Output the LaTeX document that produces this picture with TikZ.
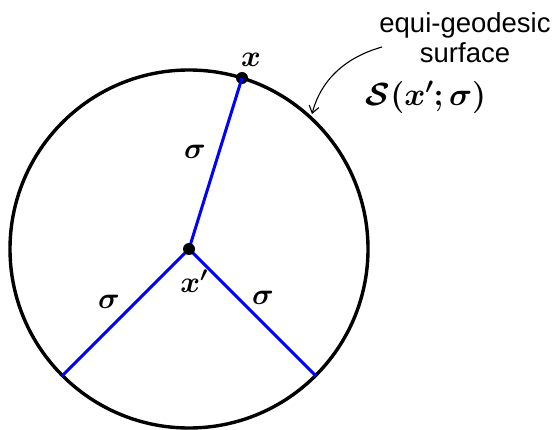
\RequirePackage{fix-cm}
\documentclass[tikz,border=0pt]{standalone}
\usepackage{fontspec}
\setmainfont{Liberation Sans}
\usepackage{amsmath,bm}
\usetikzlibrary{arrows.meta}
\tikzset{
  radius line/.style={blue, line width=3pt},
  dotnode/.style={circle, fill=black, inner sep=0pt, minimum size=12pt},
  mathlbl/.style={font=\fontsize{30}{34}\selectfont},
  biglbl/.style={font=\fontsize{32}{36}\selectfont},
  txtlbl/.style={font=\fontsize{27.5}{30}\selectfont, align=center},
}
\begin{document}
\begin{tikzpicture}[x=1pt, y=-1pt]
\useasboundingbox (0,0) rectangle (553,430);
\coordinate (O) at (189,249);
\draw[line width=3.4pt] (O) circle (179);
\coordinate (L) at (62,376);
\coordinate (R) at (316,376);
\node[dotnode] (X) at (242,78) {};
\draw[radius line] (O) -- (X.center);
\draw[radius line] (O) -- (L);
\draw[radius line] (O) -- (R);
\node[dotnode] (C) at (O) {};
\node[mathlbl] (lx) at (251,60) {$\bm{x}$};
\node[mathlbl] (lxp) at (194,281) {$\bm{x'}$};
\node[mathlbl] (s1) at (195,152) {$\bm{\sigma}$};
\node[mathlbl] (s2) at (109,302) {$\bm{\sigma}$};
\node[mathlbl] (s3) at (263,298) {$\bm{\sigma}$};
\node[biglbl] (lS) at (426,97) {$\bm{\mathcal{S}}\bm{(x';\sigma)}$};
\node[txtlbl] (lt) at (465,38) {equi-geodesic\\surface};
\coordinate (A0) at (382,47);
\coordinate (A1) at (312,114);
\draw[line width=1.1pt, -{Straight Barb[length=7pt,width=10pt]}] (A0) .. controls (350,56) and (322,76) .. (A1);
\end{tikzpicture}
\end{document}
